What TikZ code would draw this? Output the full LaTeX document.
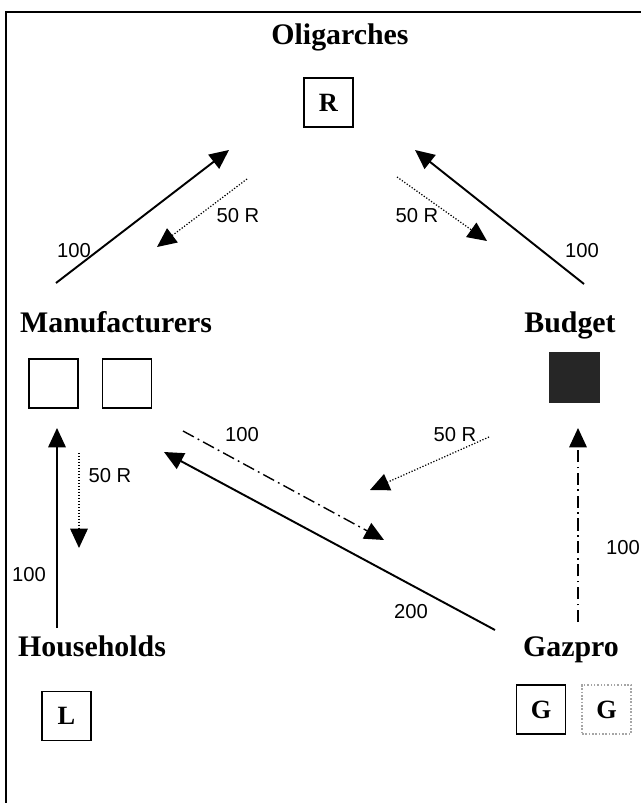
\documentclass[tikz,border=0pt]{standalone}
\usepackage{fontspec}
\setmainfont{Liberation Serif}
\setsansfont{Liberation Sans}
\usetikzlibrary{arrows.meta}

\begin{document}
\begin{tikzpicture}[x=0.02cm, y=-0.02cm, > = {Triangle[length=11pt,width=10pt]},
  flow/.style  = {->, line width=1.1pt},
  rent/.style  = {->, line width=0.7pt, densely dotted},
  gas/.style   = {->, line width=0.8pt, dash pattern=on 7pt off 2.5pt on 1pt off 2.5pt},
  title/.style = {font=\bfseries\fontsize{17}{20}\selectfont},
  amt/.style   = {font=\sffamily\fontsize{11.5}{13}\selectfont, inner sep=0pt},
  acct/.style  = {draw, line width=0.9pt, minimum width=0.98cm, minimum height=0.98cm,
                  inner sep=0pt, font=\bfseries\fontsize{15}{18}\selectfont},
  ]

	\useasboundingbox[fill=white] (0,0) rectangle (641,803);
	\draw[line width=0.9pt] (6,803) -- (6,12) -- (641,12); % frame

	% sectors
	\node[title, anchor=base] (olig) at (340,45) {Oligarches};
	\node[title, anchor=base west] (manu) at (14,333) {Manufacturers};
	\node[title, anchor=base] (budg) at (570,333) {Budget};
	\node[title, anchor=base west] (hous) at (12,656) {Households};
	\node[title, anchor=base] (gazp) at (571,656) {Gazpro};

	% accounts
	\node[acct] (acc-r) at (328.5,102.5) {R};
	\node[acct] (acc-m1) at (53.5,383.5) {};
	\node[acct] (acc-m2) at (127,383.5) {};
	\node[acct, fill=black!85, draw=black!85] (acc-b) at (574.5,377.5) {};
	\node[acct] (acc-l) at (66.5,716) {L};
	\node[acct] (acc-g1) at (541,709.5) {G};
	\node[acct, draw=black!35, densely dotted] (acc-g2) at (606.5,709.5) {G};

	% arrow ends
	\coordinate (mo-a) at (56,283);   \coordinate (mo-b) at (229,150);
	\coordinate (om-a) at (247,179);  \coordinate (om-b) at (157,247);
	\coordinate (ob-a) at (397,177);  \coordinate (ob-b) at (487,241);
	\coordinate (bo-a) at (584,284);  \coordinate (bo-b) at (415,150);
	\coordinate (hm-a) at (57,628);   \coordinate (hm-b) at (57,428);
	\coordinate (mh-a) at (79,453);   \coordinate (mh-b) at (79,548);
	\coordinate (mg-a) at (183,431);  \coordinate (mg-b) at (384,540);
	\coordinate (gm-a) at (495,630);  \coordinate (gm-b) at (164,452);
	\coordinate (bm-a) at (489,437);  \coordinate (bm-b) at (370,490);
	\coordinate (gb-a) at (578,622);  \coordinate (gb-b) at (578,428);

	\draw[flow] (mo-a) -- (mo-b); % manufacturers to oligarches
	\draw[rent] (om-a) -- (om-b);
	\draw[rent] (ob-a) -- (ob-b);
	\draw[flow] (bo-a) -- (bo-b); % budget to oligarches
	\draw[flow, line width=0.8pt] (hm-a) -- (hm-b);
	\draw[rent] (mh-a) -- (mh-b);
	\draw[gas] (mg-a) -- (mg-b);
	\draw[flow] (gm-a) -- (gm-b); % gazpro to manufacturers
	\draw[rent] (bm-a) -- (bm-b);
	\draw[gas] (gb-a) -- (gb-b); % gazpro to budget

	% amounts
	\node[amt] (v-mo) at (74,251) {100};
	\node[amt] (v-om) at (238,216) {50 R};
	\node[amt] (v-ob) at (417,216) {50 R};
	\node[amt] (v-bo) at (582,251) {100};
	\node[amt] (v-mh) at (110,476) {50 R};
	\node[amt] (v-hm) at (29,575) {100};
	\node[amt] (v-mg) at (242,435) {100};
	\node[amt] (v-gm) at (411,612) {200};
	\node[amt] (v-bm) at (455,435) {50 R};
	\node[amt] (v-gb) at (623,548) {100};

\end{tikzpicture}
\end{document}
